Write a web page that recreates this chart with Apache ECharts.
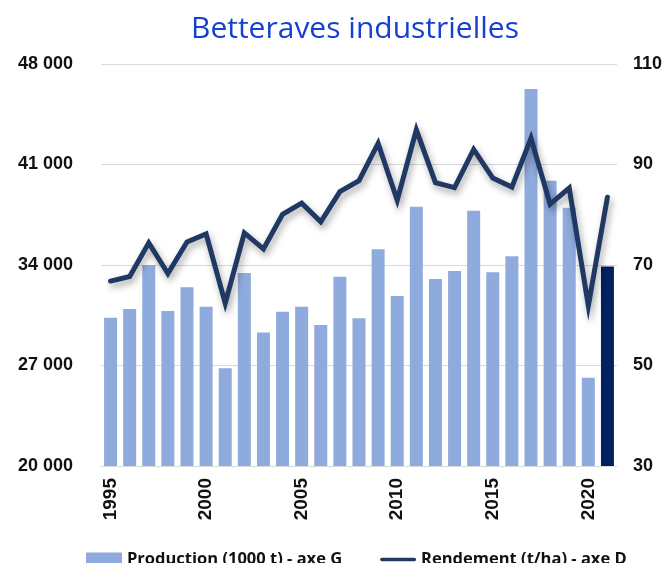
<!DOCTYPE html>
<html>
<head>
<meta charset="utf-8">
<script src="https://cdn.jsdelivr.net/npm/echarts@6/dist/echarts.min.js"></script>
<style>
html,body{margin:0;padding:0;background:#fff;}
#chart{width:666px;height:563px;}
</style>
</head>
<body>
<div id="chart"></div>
<script>
const years = ['1995','1996','1997','1998','1999','2000','2001','2002','2003','2004','2005','2006','2007','2008','2009','2010','2011','2012','2013','2014','2015','2016','2017','2018','2019','2020','2021'];
const production = [30330,30940,34000,30800,32450,31100,26800,33440,29290,30750,31100,29820,33190,30290,35090,31840,38060,33030,33580,37780,33490,34610,46260,39870,37990,26150,33900];
const rendement = [66.8,67.7,74.4,68.3,74.6,76.2,62.4,76.4,73.2,80.1,82.3,78.6,84.6,86.8,94.2,82.9,96.9,86.4,85.4,93.0,87.3,85.5,95.2,82.1,85.3,61.9,83.5];
const leftTicks = [20000, 48000, 7000];
const rightTicks = [30, 110, 20];

const chart = echarts.init(document.getElementById('chart'));
const fmtThousands = v => String(v).replace(/\B(?=(\d{3})+(?!\d))/g, ' ');
const lastIdx = years.length - 1;
chart.setOption({
  animation: false,
  title: {
    text: 'Betteraves industrielles',
    left: 186,
    top: 9,
    textStyle: {fontFamily: 'Open Sans', fontWeight: 'normal', fontSize: 30, color: '#1540d0'}
  },
  legend: {
    left: 81,
    top: 546,
    itemWidth: 36,
    itemHeight: 14,
    itemGap: 38,
    textStyle: {fontFamily: 'Open Sans', fontWeight: 'bold', fontSize: 16.5, color: '#111'},
    data: [
      {name: 'Production (1000 t) - axe G', icon: 'rect', itemStyle: {color: '#8faadc'}},
      {name: 'Rendement (t/ha) - axe D', icon: 'path://M0,0L0,0M2,5L38,5A2,2,0,0,1,38,9L2,9A2,2,0,0,1,2,5ZM0,14L0,14', itemStyle: {color: '#1f3864', borderWidth: 0}}
    ]
  },
  grid: {left: 101, right: 49, top: 64, bottom: 97, containLabel: false},
  xAxis: {
    type: 'category',
    data: years,
    boundaryGap: true,
    axisLine: {lineStyle: {color: '#d9d9d9', width: 1}},
    axisTick: {show: false},
    axisLabel: {
      rotate: 90,
      margin: 12,
      interval: 0,
      formatter: (v, i) => (i % 5 === 0 ? v : ''),
      fontFamily: 'Liberation Sans',
      fontWeight: 'bold',
      fontSize: 19,
      color: '#111'
    }
  },
  yAxis: [
    {
      type: 'value',
      min: leftTicks[0], max: leftTicks[1], interval: leftTicks[2],
      axisLine: {show: false}, axisTick: {show: false},
      splitLine: {lineStyle: {color: '#d9d9d9', width: 1}},
      axisLabel: {margin: 28, formatter: fmtThousands, fontFamily: 'Liberation Sans', fontWeight: 'bold', fontSize: 18, color: '#111'}
    },
    {
      type: 'value',
      min: rightTicks[0], max: rightTicks[1], interval: rightTicks[2],
      axisLine: {show: false}, axisTick: {show: false},
      splitLine: {show: false},
      axisLabel: {margin: 16, fontFamily: 'Liberation Sans', fontWeight: 'bold', fontSize: 18, color: '#111'}
    }
  ],
  series: [
    {
      name: 'Production (1000 t) - axe G',
      type: 'bar',
      yAxisIndex: 0,
      barWidth: 13,
      data: production.map((v, i) => i === lastIdx ? {value: v, itemStyle: {color: '#002060'}} : v),
      itemStyle: {color: '#8faadc'}
    },
    {
      name: 'Rendement (t/ha) - axe D',
      type: 'line',
      yAxisIndex: 1,
      data: rendement,
      symbol: 'none',
      lineStyle: {color: '#1f3864', width: 5, cap: 'round', join: 'miter',
        shadowColor: 'rgba(0,0,0,0.35)', shadowBlur: 7, shadowOffsetX: 2, shadowOffsetY: 4},
      itemStyle: {color: '#1f3864'}
    }
  ]
});
</script>
</body>
</html>
